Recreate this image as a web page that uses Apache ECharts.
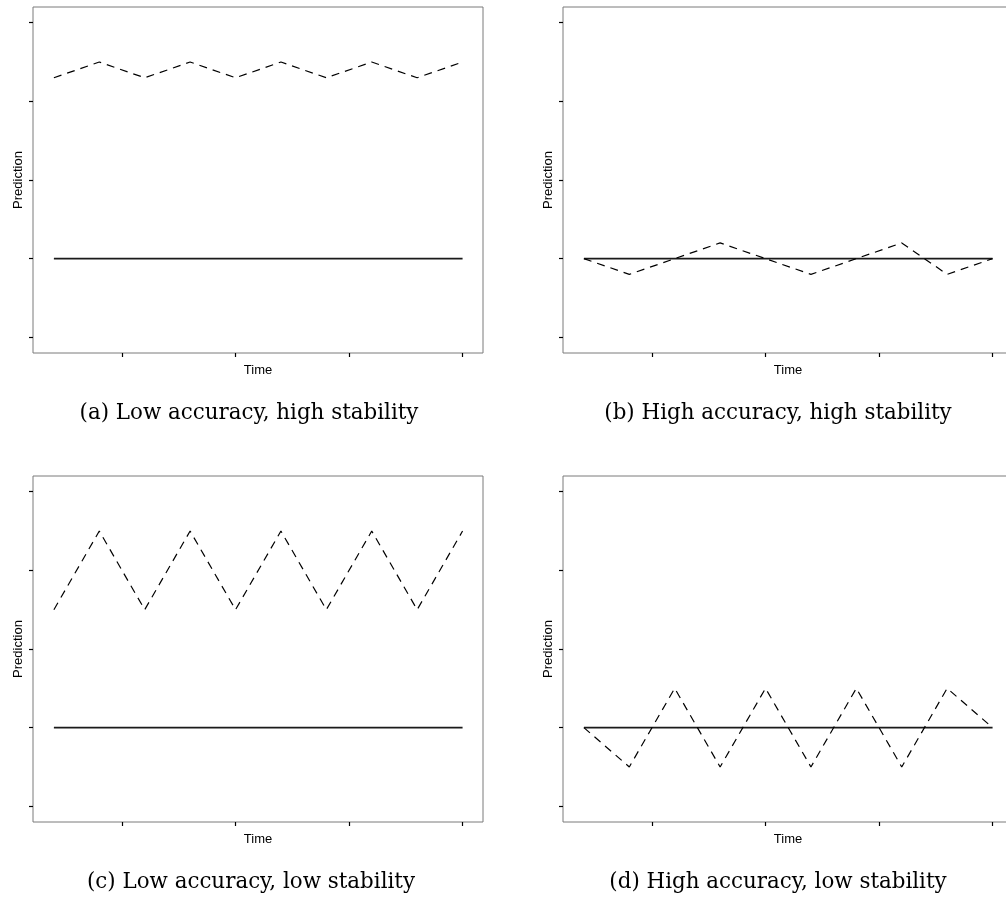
<!DOCTYPE html>
<html>
<head>
<meta charset="utf-8">
<script src="https://cdn.jsdelivr.net/npm/echarts@6/dist/echarts.min.js"></script>
<style>
html,body{margin:0;padding:0;background:#fff;}
#chart{width:1006px;height:906px;}
</style>
</head>
<body>
<div id="chart"></div>
<script>
// ---- data ----
const time = [1, 2, 3, 4, 5, 6, 7, 8, 9, 10];
const xTicks = [2.5, 5, 7.5, 10];
const yTicks = [1, 2, 3, 4, 5];

const actualA = [2, 2, 2, 2, 2, 2, 2, 2, 2, 2];
const predA   = [4.3, 4.5, 4.3, 4.5, 4.3, 4.5, 4.3, 4.5, 4.3, 4.5];

const actualB = [2, 2, 2, 2, 2, 2, 2, 2, 2, 2];
const predB   = [2, 1.8, 2, 2.2, 2, 1.8, 2, 2.2, 1.8, 2];

const actualC = [2, 2, 2, 2, 2, 2, 2, 2, 2, 2];
const predC   = [3.5, 4.5, 3.5, 4.5, 3.5, 4.5, 3.5, 4.5, 3.5, 4.5];

const actualD = [2, 2, 2, 2, 2, 2, 2, 2, 2, 2];
const predD   = [2, 1.5, 2.5, 1.5, 2.5, 1.5, 2.5, 1.5, 2.5, 2];

const captions = [
  '(a) Low accuracy, high stability',
  '(b) High accuracy, high stability',
  '(c) Low accuracy, low stability',
  '(d) High accuracy, low stability'
];
const xName = 'Time';
const yName = 'Prediction';

// ---- layout ----
const panels = [
  {left: 33,  top: 7,   actual: actualA, pred: predA, cx: 249, cy: 413},
  {left: 563, top: 7,   actual: actualB, pred: predB, cx: 778, cy: 413},
  {left: 33,  top: 476, actual: actualC, pred: predC, cx: 251, cy: 882},
  {left: 563, top: 476, actual: actualD, pred: predD, cx: 778, cy: 882}
];

const pairs = (ys) => time.map((t, i) => [t, ys[i]]);

const grid = [], xAxis = [], yAxis = [], series = [], graphic = [];
panels.forEach((p, i) => {
  grid.push({
    left: p.left, top: p.top, width: 450, height: 346,
    show: true, borderColor: '#7a7a7a', borderWidth: 1, backgroundColor: 'transparent',
    containLabel: false, outerBoundsMode: 'none'
  });
  xAxis.push({
    type: 'value', gridIndex: i, min: 0.54, max: 10.45,
    name: xName, nameLocation: 'middle', nameGap: 11,
    nameTextStyle: {fontFamily: '"Liberation Sans", Arial, sans-serif', fontSize: 13, color: '#000'},
    axisLine: {show: false},
    axisTick: {show: true, inside: false, length: 4, customValues: xTicks, lineStyle: {color: '#000', width: 1.2}},
    axisLabel: {show: false, customValues: xTicks},
    splitLine: {show: false}
  });
  yAxis.push({
    type: 'value', gridIndex: i, min: 0.8, max: 5.2,
    name: yName, nameLocation: 'middle', nameGap: 8, nameRotate: 90,
    nameTextStyle: {fontFamily: '"Liberation Sans", Arial, sans-serif', fontSize: 13, color: '#000'},
    axisLine: {show: false},
    axisTick: {show: true, inside: false, length: 4, customValues: yTicks, lineStyle: {color: '#000', width: 1.2}},
    axisLabel: {show: false, customValues: yTicks},
    splitLine: {show: false}
  });
  series.push({
    type: 'line', xAxisIndex: i, yAxisIndex: i, data: pairs(p.actual),
    showSymbol: false, symbol: 'none', silent: true,
    lineStyle: {color: '#1a1a1a', width: 1.6, type: 'solid'}
  });
  series.push({
    type: 'line', xAxisIndex: i, yAxisIndex: i, data: pairs(p.pred),
    showSymbol: false, symbol: 'none', silent: true,
    lineStyle: {color: '#000', width: 1.2, type: [8, 6]}
  });
  graphic.push({
    type: 'text', x: p.cx, y: p.cy,
    style: {
      text: captions[i], fill: '#000',
      fontFamily: '"DejaVu Serif", serif', fontSize: 21.4,
      align: 'center', verticalAlign: 'middle',
      textAlign: 'center', textVerticalAlign: 'middle'
    }
  });
});

const chart = echarts.init(document.getElementById('chart'), null, {renderer: 'canvas'});
chart.setOption({
  animation: false,
  backgroundColor: '#fff',
  grid, xAxis, yAxis, series, graphic
});
</script>
</body>
</html>
